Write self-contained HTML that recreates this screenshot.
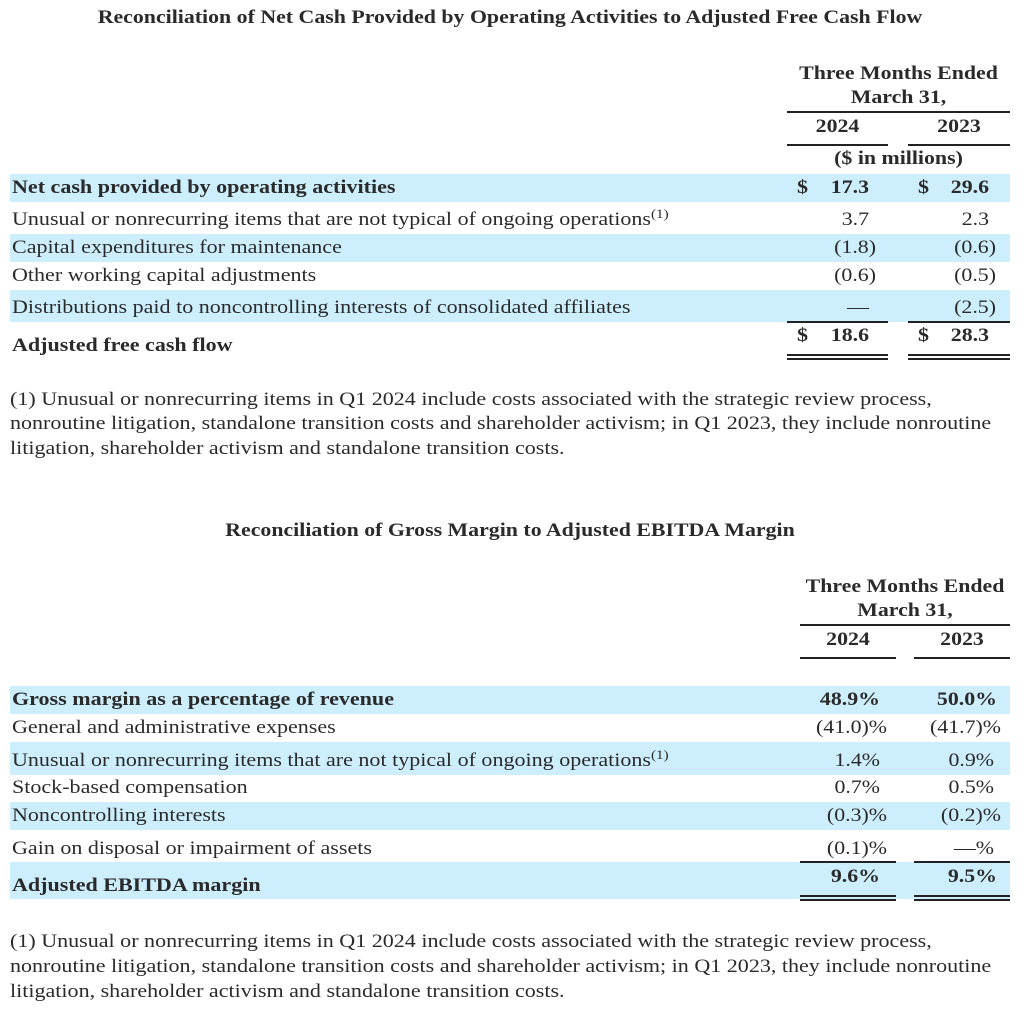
<!DOCTYPE html>
<html><head><meta charset="utf-8"><style>
body{margin:0;width:1024px;height:1010px;background:#fff;position:relative;overflow:hidden;font-family:"Liberation Serif",serif;color:#2a2a2a}
div{position:absolute;white-space:nowrap}
.t{font-weight:bold;font-size:19px;line-height:22px;transform:scaleX(1.15);transform-origin:center}
.r{font-size:19px;line-height:22px;transform:scaleX(1.16);transform-origin:left}
.b{font-weight:bold}
.band{background:#cdeefd;left:10px;width:1000px}
.ln{background:#222;height:2px}
.num{text-align:right;font-size:19px;line-height:22px;transform:scaleX(1.15);transform-origin:right}
.cd{transform-origin:left}
sup{font-size:13px;vertical-align:7px;line-height:0}
</style></head><body>
<div class="t" style="left:0;width:1020px;text-align:center;top:7px">Reconciliation of Net Cash Provided by Operating Activities to Adjusted Free Cash Flow</div>

<div class="t" style="left:787px;width:223px;text-align:center;top:63px">Three Months Ended</div>
<div class="t" style="left:787px;width:223px;text-align:center;top:87px">March 31,</div>
<div class="ln" style="left:787px;width:223px;top:111px"></div>
<div class="t" style="left:787px;width:101px;text-align:center;top:116px">2024</div>
<div class="t" style="left:908px;width:102px;text-align:center;top:116px">2023</div>
<div class="ln" style="left:787px;width:101px;top:144px"></div>
<div class="ln" style="left:908px;width:102px;top:144px"></div>
<div class="t" style="left:787px;width:223px;text-align:center;top:148px">($ in millions)</div>

<div class="band" style="top:174px;height:28px"></div>
<div class="band" style="top:234px;height:28px"></div>
<div class="band" style="top:290px;height:32px"></div>

<div class="r b" style="left:12px;top:177px">Net cash provided by operating activities</div>
<div class="r" style="left:12px;top:209px">Unusual or nonrecurring items that are not typical of ongoing operations<sup>(1)</sup></div>
<div class="r" style="left:12px;top:237px">Capital expenditures for maintenance</div>
<div class="r" style="left:12px;top:265px">Other working capital adjustments</div>
<div class="r" style="left:12px;top:297px">Distributions paid to noncontrolling interests of consolidated affiliates</div>
<div class="r b" style="left:12px;top:335px">Adjusted free cash flow</div>

<div class="r b" style="left:797px;top:177px">$</div>
<div class="num b" style="left:790px;width:79px;top:177px">17.3</div>
<div class="r b" style="left:918px;top:177px">$</div>
<div class="num b" style="left:910px;width:79px;top:177px">29.6</div>
<div class="num" style="left:790px;width:79px;top:209px">3.7</div>
<div class="num" style="left:910px;width:79px;top:209px">2.3</div>
<div class="num" style="left:790px;width:86px;top:237px">(1.8)</div>
<div class="num" style="left:910px;width:86px;top:237px">(0.6)</div>
<div class="num" style="left:790px;width:86px;top:265px">(0.6)</div>
<div class="num" style="left:910px;width:86px;top:265px">(0.5)</div>
<div class="num" style="left:790px;width:79px;top:297px">—</div>
<div class="num" style="left:910px;width:86px;top:297px">(2.5)</div>
<div class="ln" style="left:787px;width:101px;top:321px"></div>
<div class="ln" style="left:908px;width:102px;top:321px"></div>
<div class="r b" style="left:797px;top:325px">$</div>
<div class="num b" style="left:790px;width:79px;top:325px">18.6</div>
<div class="r b" style="left:918px;top:325px">$</div>
<div class="num b" style="left:910px;width:79px;top:325px">28.3</div>
<div class="ln" style="left:787px;width:101px;top:354px"></div>
<div class="ln" style="left:908px;width:102px;top:354px"></div>
<div class="ln" style="left:787px;width:101px;top:358px"></div>
<div class="ln" style="left:908px;width:102px;top:358px"></div>

<div class="r" style="left:10px;top:389px">(1) Unusual or nonrecurring items in Q1 2024 include costs associated with the strategic review process,</div>
<div class="r" style="left:10px;top:413px">nonroutine litigation, standalone transition costs and shareholder activism; in Q1 2023, they include nonroutine</div>
<div class="r" style="left:10px;top:438px">litigation, shareholder activism and standalone transition costs.</div>

<div class="t" style="left:0;width:1020px;text-align:center;top:520px">Reconciliation of Gross Margin to Adjusted EBITDA Margin</div>

<div class="t" style="left:800px;width:210px;text-align:center;top:576px">Three Months Ended</div>
<div class="t" style="left:800px;width:210px;text-align:center;top:600px">March 31,</div>
<div class="ln" style="left:800px;width:210px;top:624px"></div>
<div class="t" style="left:800px;width:96px;text-align:center;top:629px">2024</div>
<div class="t" style="left:914px;width:96px;text-align:center;top:629px">2023</div>
<div class="ln" style="left:800px;width:96px;top:657px"></div>
<div class="ln" style="left:914px;width:96px;top:657px"></div>

<div class="band" style="top:686px;height:28px"></div>
<div class="band" style="top:742px;height:33px"></div>
<div class="band" style="top:802px;height:28px"></div>
<div class="band" style="top:862px;height:37px"></div>

<div class="r b" style="left:12px;top:689px">Gross margin as a percentage of revenue</div>
<div class="r" style="left:12px;top:717px">General and administrative expenses</div>
<div class="r" style="left:12px;top:750px">Unusual or nonrecurring items that are not typical of ongoing operations<sup>(1)</sup></div>
<div class="r" style="left:12px;top:777px">Stock-based compensation</div>
<div class="r" style="left:12px;top:805px">Noncontrolling interests</div>
<div class="r" style="left:12px;top:838px">Gain on disposal or impairment of assets</div>
<div class="r b" style="left:12px;top:875px">Adjusted EBITDA margin</div>

<div class="num b" style="left:790px;width:90px;top:689px">48.9%</div>
<div class="num b" style="left:900px;width:97px;top:689px">50.0%</div>
<div class="num" style="left:790px;width:97px;top:717px">(41.0)%</div>
<div class="num" style="left:900px;width:101px;top:717px">(41.7)%</div>
<div class="num" style="left:790px;width:90px;top:750px">1.4%</div>
<div class="num" style="left:900px;width:94px;top:750px">0.9%</div>
<div class="num" style="left:790px;width:90px;top:777px">0.7%</div>
<div class="num" style="left:900px;width:94px;top:777px">0.5%</div>
<div class="num" style="left:790px;width:97px;top:805px">(0.3)%</div>
<div class="num" style="left:900px;width:101px;top:805px">(0.2)%</div>
<div class="num" style="left:790px;width:97px;top:838px">(0.1)%</div>
<div class="num" style="left:900px;width:94px;top:838px">—%</div>
<div class="ln" style="left:800px;width:96px;top:861px"></div>
<div class="ln" style="left:914px;width:96px;top:861px"></div>
<div class="num b" style="left:790px;width:90px;top:866px">9.6%</div>
<div class="num b" style="left:900px;width:97px;top:866px">9.5%</div>
<div class="ln" style="left:800px;width:96px;top:895px"></div>
<div class="ln" style="left:914px;width:96px;top:895px"></div>
<div class="ln" style="left:800px;width:96px;top:899px"></div>
<div class="ln" style="left:914px;width:96px;top:899px"></div>

<div class="r" style="left:10px;top:931px">(1) Unusual or nonrecurring items in Q1 2024 include costs associated with the strategic review process,</div>
<div class="r" style="left:10px;top:956px">nonroutine litigation, standalone transition costs and shareholder activism; in Q1 2023, they include nonroutine</div>
<div class="r" style="left:10px;top:981px">litigation, shareholder activism and standalone transition costs.</div>
</body></html>
